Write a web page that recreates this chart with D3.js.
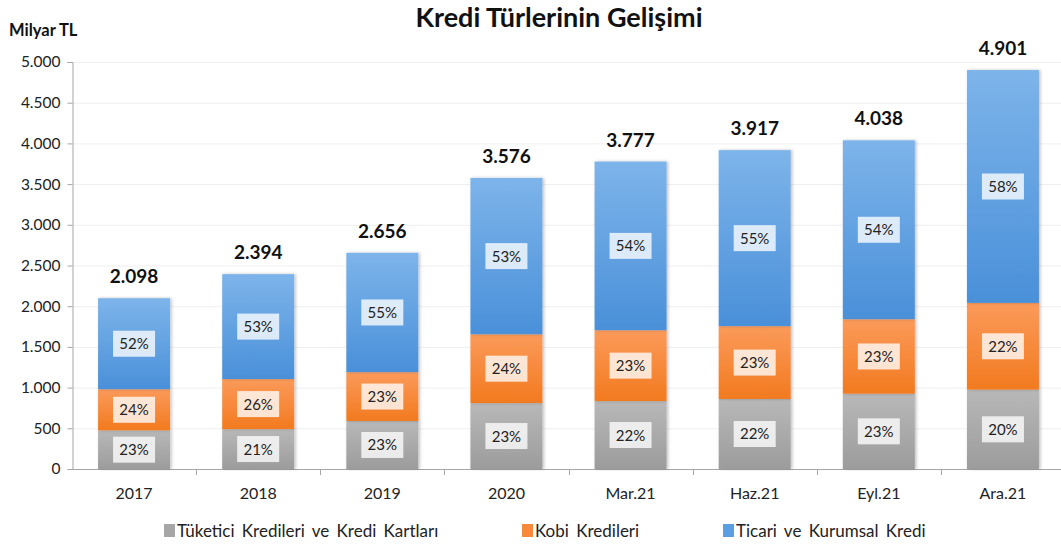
<!DOCTYPE html>
<html><head><meta charset="utf-8">
<script src="https://cdn.jsdelivr.net/npm/d3@7"></script>
<style>body{margin:0;background:#fff}svg{display:block;font-family:Lato,"Open Sans",sans-serif}</style>
</head><body><svg id="c" width="1061" height="547"></svg>
<script>
const categories = ["2017","2018","2019","2020","Mar.21","Haz.21","Eyl.21","Ara.21"];
const totals = [2098,2394,2656,3576,3777,3917,4038,4901];
const totalLabels = ["2.098","2.394","2.656","3.576","3.777","3.917","4.038","4.901"];
const tuketici = [475,490,590,810,835,860,925,975];
const kobi = [505,615,600,845,870,895,915,1065];
const ticari = [1118,1289,1466,1921,2072,2162,2198,2861];
const pctTuketici = ["23%","21%","23%","23%","22%","22%","23%","20%"];
const pctKobi = ["24%","26%","23%","24%","23%","23%","23%","22%"];
const pctTicari = ["52%","53%","55%","53%","54%","55%","54%","58%"];
const seriesNames = ["Tüketici Kredileri ve Kredi Kartları","Kobi Kredileri","Ticari ve Kurumsal Kredi"];
const yTicks = [0,500,1000,1500,2000,2500,3000,3500,4000,4500,5000];

const svg = d3.select("#c");
const x = d3.scaleBand().domain(categories).range([72,1065]).paddingInner(0.42).paddingOuter(0.21);
const y = d3.scaleLinear().domain([0,5000]).range([469,62]);

const defs = svg.append("defs");
const grads = [["g0","#b8b8b8","#9c9c9c"],["g1","#fb9a5a","#f27a1f"],["g2","#7db4ea","#4a90d9"]];
grads.forEach(([id,c1,c2])=>{
  const g = defs.append("linearGradient").attr("id",id).attr("x1",0).attr("y1",0).attr("x2",0).attr("y2",1);
  g.append("stop").attr("offset","0%").attr("stop-color",c1);
  g.append("stop").attr("offset","100%").attr("stop-color",c2);
});
const f = defs.append("filter").attr("id","sh").attr("x","-10%").attr("y","-10%").attr("width","130%").attr("height","130%");
f.append("feDropShadow").attr("dx",1.5).attr("dy",0).attr("stdDeviation",1.5).attr("flood-color","#000").attr("flood-opacity",0.25);

// gridlines
svg.append("g").selectAll("line").data(yTicks.filter(d=>d>0)).join("line")
  .attr("x1",72).attr("x2",1061).attr("y1",d=>y(d)+0.5).attr("y2",d=>y(d)+0.5)
  .attr("stroke","#efefef").attr("stroke-width",1);

// y axis
const fmt = d => d3.format(",")(d).replace(/,/g,".");
const yAxis = svg.append("g").attr("transform","translate(72.5,0)")
  .call(d3.axisLeft(y).tickValues(yTicks).tickFormat(fmt).tickSize(5).tickPadding(7));
yAxis.select(".domain").attr("stroke","#a6a6a6");
yAxis.selectAll(".tick line").attr("stroke","#a6a6a6");
yAxis.selectAll("text").attr("font-size",15.5).attr("fill","#222").attr("font-family","Lato,sans-serif");

// x axis
svg.append("line").attr("x1",72).attr("x2",1061).attr("y1",469.5).attr("y2",469.5).attr("stroke","#a6a6a6");
const step = x.step();
svg.append("g").selectAll("line").data(d3.range(1,categories.length)).join("line")
  .attr("x1",i=>Math.round(72+i*step)+0.5).attr("x2",i=>Math.round(72+i*step)+0.5)
  .attr("y1",469).attr("y2",475).attr("stroke","#a6a6a6");
svg.append("g").selectAll("text").data(categories).join("text")
  .attr("x",d=>x(d)+x.bandwidth()/2).attr("y",499).attr("text-anchor","middle")
  .attr("font-size",16).attr("fill","#222").text(d=>d);

// stacked bars
const rows = categories.map((c,i)=>({cat:c, s:[tuketici[i],kobi[i],ticari[i]], p:[pctTuketici[i],pctKobi[i],pctTicari[i]]}));
const bars = svg.append("g");
rows.forEach(r=>{
  let base = 0;
  r.s.forEach((v,k)=>{
    const y0 = y(base), y1 = y(base+v);
    bars.append("rect").attr("x",x(r.cat)).attr("width",x.bandwidth())
      .attr("y",y1).attr("height",y0-y1).attr("fill",`url(#g${k})`).attr("filter","url(#sh)");
    r[`mid${k}`] = (y0+y1)/2;
    base += v;
  });
});
// percentage labels
rows.forEach(r=>{
  r.p.forEach((t,k)=>{
    const cx = x(r.cat)+x.bandwidth()/2, cy = r[`mid${k}`];
    bars.append("rect").attr("x",cx-21).attr("y",cy-13).attr("width",42).attr("height",26)
      .attr("fill","#fff").attr("fill-opacity",0.78);
    bars.append("text").attr("x",cx).attr("y",cy+5.5).attr("text-anchor","middle")
      .attr("font-size",15).attr("fill","#222").text(t);
  });
});
// totals
svg.append("g").selectAll("text").data(categories).join("text")
  .attr("x",d=>x(d)+x.bandwidth()/2).attr("y",(d,i)=>y(totals[i])-15)
  .attr("text-anchor","middle").attr("font-size",19).attr("font-weight","bold").attr("fill","#111")
  .text((d,i)=>totalLabels[i]);

// title
svg.append("text").attr("x",559).attr("y",27).attr("text-anchor","middle")
  .attr("font-size",27).attr("font-weight","bold").attr("fill","#111").text("Kredi Türlerinin Gelişimi");
svg.append("text").attr("x",9).attr("y",36).attr("font-size",16.5).attr("font-weight","bold").attr("fill","#111").text("Milyar TL");

// legend
const legX = [164,522,723];
const legCol = ["#a6a6a6","#f58a3c","#5b9ee3"];
const leg = svg.append("g");
seriesNames.forEach((n,k)=>{
  leg.append("rect").attr("x",legX[k]).attr("y",524).attr("width",11).attr("height",13).attr("fill",legCol[k]);
  leg.append("text").attr("x",legX[k]+13).attr("y",537).attr("font-size",17).attr("word-spacing",3).attr("fill","#222").text(n);
});
</script></body></html>
